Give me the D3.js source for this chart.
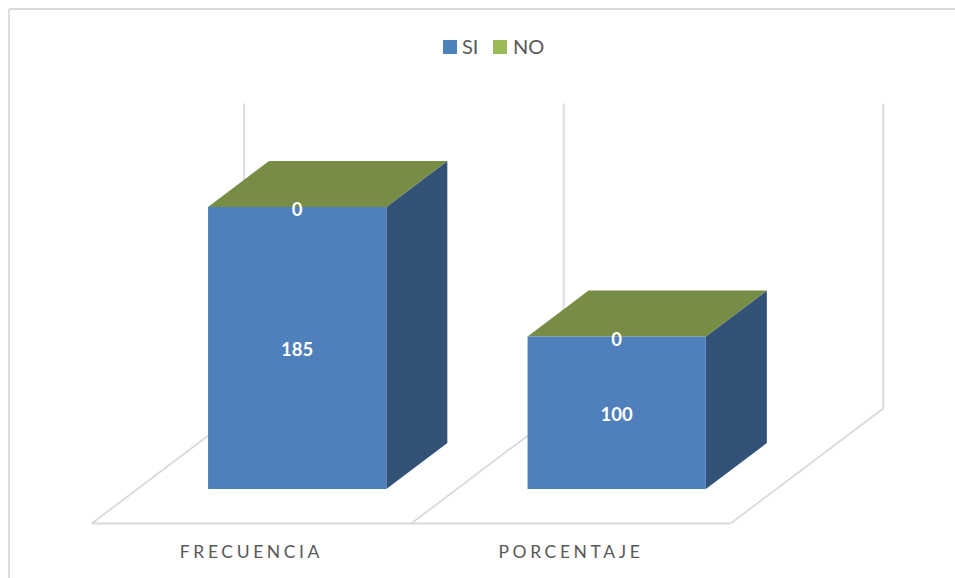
<!DOCTYPE html>
<html>
<head>
<meta charset="utf-8">
<script src="https://cdn.jsdelivr.net/npm/d3@7"></script>
<style>
html,body{margin:0;padding:0;background:#fff;overflow:hidden}
svg{display:block}
text{font-family:Lato,"Open Sans",sans-serif}
</style>
</head>
<body>
<svg id="c" width="955" height="578"></svg>
<script>
const categories = ["FRECUENCIA", "PORCENTAJE"];
const seriesNames = ["SI", "NO"];
const siValues = [185, 100];
const noValues = [0, 0];
const legendColors = ["#4f81bd", "#9bbb59"];
const frontColor = "#4f80bc";
const sideColor = "#325278";
const topColor = "#778d45";
const gridColor = "#dadada";
const textColor = "#595959";

const svg = d3.select("#c");
const W = 955, H = 578;

// oblique projection: floor runs from z=0 (front) to z=1 (back)
const depthX = 152.5, depthY = 115;
const x = d3.scaleBand().domain(categories).range([91.7, 730.7]);
const y = d3.scaleLinear().domain([0, 200]).range([523.5, 218.5]);
const zFront = 0.3, zBack = 0.7, barShare = 0.558;
const px = (xv, z) => xv + z * depthX;
const py = (v, z) => y(v) - z * depthY;
const poly = pts => pts.map(p => p.join(",")).join(" ");

// chart frame (top and left only are visible)
svg.append("line").attr("x1", 9).attr("y1", 9).attr("x2", W).attr("y2", 9)
  .attr("stroke", gridColor).attr("stroke-width", 1.8);
svg.append("line").attr("x1", 9).attr("y1", 9).attr("x2", 9).attr("y2", H)
  .attr("stroke", gridColor).attr("stroke-width", 1.8);

// floor and back wall
const edges = [...categories.map(c => x(c)), x.range()[1]];
const grid = svg.append("g").attr("stroke", gridColor).attr("stroke-width", 1.8).attr("fill", "none");
grid.append("line").attr("x1", x.range()[0]).attr("y1", y(0)).attr("x2", x.range()[1]).attr("y2", y(0));
edges.forEach(e => {
  grid.append("polyline").attr("points", poly([
    [px(e, 0), py(0, 0)], [px(e, 1), py(0, 1)], [px(e, 1), py(200, 1)]
  ]));
});

// bars
const bars = svg.append("g");
categories.forEach((c, i) => {
  const bw = x.bandwidth() * barShare;
  const x0 = x(c) + (x.bandwidth() - bw) / 2, x1 = x0 + bw;
  const top = siValues[i] + noValues[i];
  bars.append("polygon").attr("fill", sideColor).attr("points", poly([
    [px(x1, zFront), py(0, zFront)], [px(x1, zBack), py(0, zBack)],
    [px(x1, zBack), py(top, zBack)], [px(x1, zFront), py(top, zFront)]
  ]));
  bars.append("polygon").attr("fill", topColor).attr("points", poly([
    [px(x0, zFront), py(top, zFront)], [px(x1, zFront), py(top, zFront)],
    [px(x1, zBack), py(top, zBack)], [px(x0, zBack), py(top, zBack)]
  ]));
  bars.append("polygon").attr("fill", frontColor).attr("points", poly([
    [px(x0, zFront), py(0, zFront)], [px(x1, zFront), py(0, zFront)],
    [px(x1, zFront), py(siValues[i], zFront)], [px(x0, zFront), py(siValues[i], zFront)]
  ]));
  const cx = px((x0 + x1) / 2, zFront);
  bars.append("text").attr("x", cx).attr("y", py(siValues[i] / 2, zFront) + 1)
    .attr("text-anchor", "middle").attr("dominant-baseline", "central")
    .attr("fill", "#fff").attr("font-weight", 700).attr("font-size", 18.5).text(siValues[i]);
  bars.append("text").attr("x", cx).attr("y", py(top, zFront) + 2)
    .attr("text-anchor", "middle").attr("dominant-baseline", "central")
    .attr("fill", "#fff").attr("font-weight", 700).attr("font-size", 18.5).text(noValues[i]);
});

// category axis
const axis = svg.append("g").attr("transform", `translate(0,${y(0)})`)
  .call(d3.axisBottom(x).tickSize(0).tickPadding(22));
axis.select(".domain").remove();
axis.selectAll("text").attr("fill", textColor).attr("font-size", 17.5)
  .attr("font-family", "Lato,'Open Sans',sans-serif")
  .style("letter-spacing", "3.6px");

// legend
const legendX = [443, 493], legendTextX = [462, 513];
const legend = svg.append("g");
seriesNames.forEach((s, i) => {
  legend.append("rect").attr("x", legendX[i]).attr("y", 40).attr("width", 14).attr("height", 14)
    .attr("fill", legendColors[i]);
  legend.append("text").attr("x", legendTextX[i]).attr("y", 54)
    .attr("fill", textColor).attr("font-size", 20).text(s);
});
</script>
</body>
</html>
